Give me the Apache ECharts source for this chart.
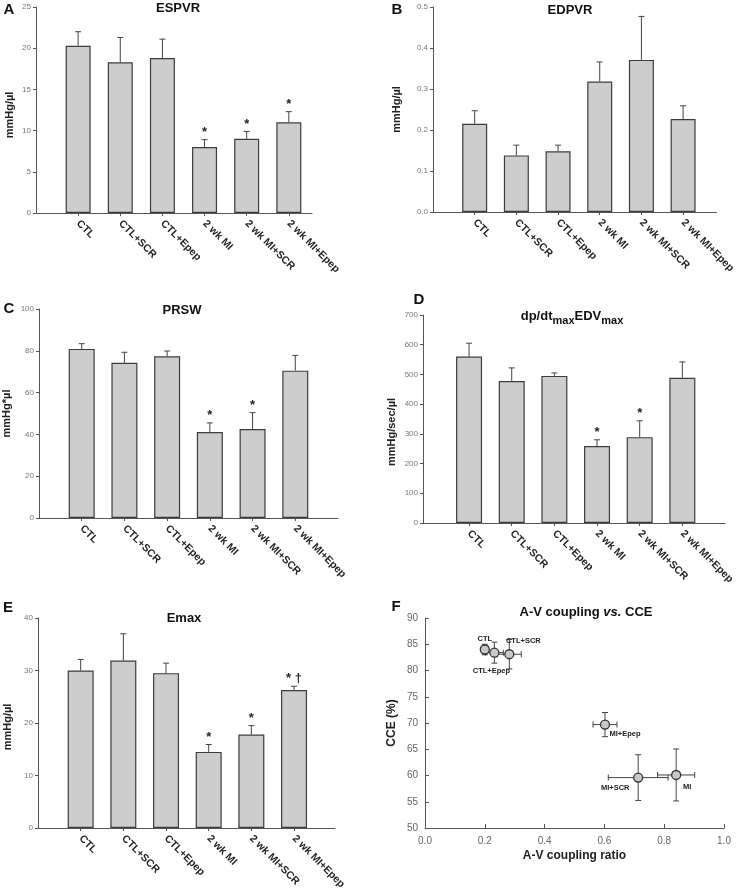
<!DOCTYPE html>
<html>
<head>
<meta charset="utf-8">
<script src="https://cdn.jsdelivr.net/npm/echarts@6/dist/echarts.min.js"></script>
<style>html,body{margin:0;padding:0;background:#fff}#c{width:738px;height:894px}</style>
</head>
<body>
<div id="c"></div>
<script>
// ---------- data ----------
const categories = ['CTL', 'CTL+SCR', 'CTL+Epep', '2 wk MI', '2 wk MI+SCR', '2 wk MI+Epep'];

const espvrMean = [20.3, 18.3, 18.8, 8.0, 9.0, 11.0];
const espvrSem  = [1.7, 3.0, 2.3, 0.9, 0.9, 1.3];
const espvrMark = ['', '', '', '*', '*', '*'];

const edpvrMean = [0.215, 0.138, 0.148, 0.318, 0.371, 0.227];
const edpvrSem  = [0.032, 0.025, 0.015, 0.048, 0.106, 0.032];
const edpvrMark = ['', '', '', '', '', ''];

const prswMean = [80.9, 74.3, 77.4, 41.1, 42.6, 70.5];
const prswSem  = [2.5, 5.0, 2.5, 4.4, 7.8, 7.3];
const prswMark = ['', '', '', '*', '*', ''];

const dpdtMean = [560, 478, 495, 259, 289, 489];
const dpdtSem  = [45, 44, 10, 21, 55, 53];
const dpdtMark = ['', '', '', '*', '*', ''];

const emaxMean = [30.0, 31.9, 29.5, 14.5, 17.8, 26.3];
const emaxSem  = [2.1, 5.1, 1.9, 1.4, 1.7, 0.7];
const emaxMark = ['', '', '', '*', '*', '* \u2020'];

const couplingGroups = ['CTL', 'CTL+SCR', 'CTL+Epep', 'MI', 'MI+SCR', 'MI+Epep'];
const avRatio    = [0.20, 0.282, 0.232, 0.84, 0.713, 0.602];
const avRatioErr = [0.012, 0.04, 0.03, 0.062, 0.10, 0.04];
const cce        = [84.0, 83.1, 83.4, 60.1, 59.6, 69.7];
const cceErr     = [1.0, 2.8, 2.0, 4.95, 4.35, 2.3];

// ---------- layout / style ----------
const panels = [
  {mean: espvrMean, sem: espvrSem, mark: espvrMark, name: 'mmHg/\u00b5l', max: 25, interval: 5, dec: 0,
   grid: {left: 36, top: 7, width: 276, height: 206}, xmin: -1, xmax: 5.55, nameGap: 21, namePad: 10, barW: 25},
  {mean: edpvrMean, sem: edpvrSem, mark: edpvrMark, name: 'mmHg/\u00b5l', max: 0.5, interval: 0.1, dec: 1,
   grid: {left: 433, top: 7, width: 285, height: 205}, xmin: -1, xmax: 5.8, nameGap: 31, namePad: 0, barW: 25},
  {mean: prswMean, sem: prswSem, mark: prswMark, name: 'mmHg*\u00b5l', max: 100, interval: 20, dec: 0,
   grid: {left: 39, top: 309, width: 299, height: 209}, xmin: -1, xmax: 6.0, nameGap: 27, namePad: 0, barW: 26},
  {mean: dpdtMean, sem: dpdtSem, mark: dpdtMark, name: 'mmHg/sec/\u00b5l', max: 700, interval: 100, dec: 0,
   grid: {left: 423, top: 315, width: 302, height: 208}, xmin: -1.08, xmax: 6.0, nameGap: 26, namePad: 26, barW: 26},
  {mean: emaxMean, sem: emaxSem, mark: emaxMark, name: 'mmHg/\u00b5l', max: 40, interval: 10, dec: 0,
   grid: {left: 38, top: 618, width: 297, height: 210}, xmin: -1, xmax: 5.96, nameGap: 25, namePad: 8, barW: 26}
];
const gridF = {left: 425, top: 618, width: 299, height: 210};
const labelOffsetF = [[0, -11], [14, -13], [-3, 18], [11, 12], [-23, 10], [20, 9]];

const FONT = '"Liberation Sans", Arial, sans-serif';
const axisColor = '#555';
const catIdx = categories.map((c, i) => i);

const grids = [], xAxes = [], yAxes = [], series = [];

panels.forEach((p, k) => {
  grids.push(p.grid);
  xAxes.push({
    gridIndex: k, type: 'value', min: p.xmin, max: p.xmax,
    axisLine: {show: true, onZero: false, lineStyle: {color: axisColor, width: 1}},
    axisTick: {show: true, length: 3, customValues: catIdx, lineStyle: {color: axisColor}},
    axisLabel: {customValues: catIdx, rotate: -45, margin: 9, fontSize: 10.5, fontWeight: 'bold',
      color: '#222', fontFamily: FONT, formatter: v => categories[Math.round(v)] || ''},
    splitLine: {show: false}
  });
  yAxes.push({
    gridIndex: k, type: 'value', min: 0, max: p.max, interval: p.interval,
    axisLine: {show: true, onZero: false, lineStyle: {color: axisColor, width: 1}},
    axisTick: {show: true, length: 3, lineStyle: {color: axisColor}},
    axisLabel: {fontSize: 8, color: '#777', margin: 5, fontFamily: FONT, formatter: v => v.toFixed(p.dec)},
    splitLine: {show: false},
    name: p.name, nameLocation: 'middle', nameGap: p.nameGap,
    nameTextStyle: {fontSize: 11, fontWeight: 'bold', color: '#222', fontFamily: FONT,
      padding: [0, p.namePad, 0, 0]}
  });
  series.push({
    type: 'bar', xAxisIndex: k, yAxisIndex: k, barWidth: p.barW,
    data: p.mean.map((v, i) => [i, v]),
    itemStyle: {color: '#cdcdcd', borderColor: '#3c3c3c', borderWidth: 1.2},
    silent: true
  });
  series.push({
    type: 'custom', xAxisIndex: k, yAxisIndex: k, z: 5,
    data: p.mean.map((v, i) => [i, v, p.sem[i]]),
    renderItem: (params, api) => {
      const x = api.value(0), m = api.value(1), e = api.value(2);
      const a = api.coord([x, m]), b = api.coord([x, m + e]);
      const st = {stroke: '#444', lineWidth: 1};
      const ch = [
        {type: 'line', shape: {x1: a[0], y1: a[1], x2: b[0], y2: b[1]}, style: st},
        {type: 'line', shape: {x1: b[0] - 3, y1: b[1], x2: b[0] + 3, y2: b[1]}, style: st}
      ];
      const mk = p.mark[params.dataIndex];
      if (mk) ch.push({type: 'text', x: b[0], y: b[1] - 1,
        style: {text: mk, align: 'center', verticalAlign: 'bottom', fontSize: 13, fontWeight: 'bold', fill: '#222', fontFamily: FONT}});
      return {type: 'group', children: ch};
    }
  });
});

// Panel F
const kF = panels.length;
grids.push(gridF);
xAxes.push({
  gridIndex: kF, type: 'value', min: 0, max: 1, interval: 0.2,
  axisLine: {show: true, onZero: false, lineStyle: {color: axisColor}},
  axisTick: {show: true, inside: true, length: 4, lineStyle: {color: axisColor}},
  axisLabel: {fontSize: 10, color: '#666', margin: 8, fontFamily: FONT, formatter: v => v.toFixed(1)},
  splitLine: {show: false},
  name: 'A-V coupling ratio', nameLocation: 'middle', nameGap: 22,
  nameTextStyle: {fontSize: 12, fontWeight: 'bold', color: '#222', fontFamily: FONT}
});
yAxes.push({
  gridIndex: kF, type: 'value', min: 50, max: 90, interval: 5,
  axisLine: {show: true, onZero: false, lineStyle: {color: axisColor}},
  axisTick: {show: true, inside: true, length: 4, lineStyle: {color: axisColor}},
  axisLabel: {fontSize: 10, color: '#666', margin: 7, fontFamily: FONT},
  splitLine: {show: false},
  name: 'CCE (%)', nameLocation: 'middle', nameGap: 27,
  nameTextStyle: {fontSize: 12, fontWeight: 'bold', color: '#222', fontFamily: FONT}
});
series.push({
  type: 'custom', xAxisIndex: kF, yAxisIndex: kF, z: 3,
  data: avRatio.map((v, i) => [v, cce[i], avRatioErr[i], cceErr[i]]),
  renderItem: (params, api) => {
    const x = api.value(0), y = api.value(1), ex = api.value(2), ey = api.value(3);
    const l = api.coord([x - ex, y]), r = api.coord([x + ex, y]);
    const t = api.coord([x, y + ey]), b = api.coord([x, y - ey]);
    const st = {stroke: '#444', lineWidth: 1};
    const c = 3;
    return {type: 'group', children: [
      {type: 'line', shape: {x1: l[0], y1: l[1], x2: r[0], y2: r[1]}, style: st},
      {type: 'line', shape: {x1: l[0], y1: l[1] - c, x2: l[0], y2: l[1] + c}, style: st},
      {type: 'line', shape: {x1: r[0], y1: r[1] - c, x2: r[0], y2: r[1] + c}, style: st},
      {type: 'line', shape: {x1: t[0], y1: t[1], x2: b[0], y2: b[1]}, style: st},
      {type: 'line', shape: {x1: t[0] - c, y1: t[1], x2: t[0] + c, y2: t[1]}, style: st},
      {type: 'line', shape: {x1: b[0] - c, y1: b[1], x2: b[0] + c, y2: b[1]}, style: st}
    ]};
  }
});
series.push({
  type: 'scatter', xAxisIndex: kF, yAxisIndex: kF, z: 4, symbol: 'circle', symbolSize: 9,
  itemStyle: {color: '#c8c8c8', borderColor: '#333', borderWidth: 1.3, opacity: 1},
  data: avRatio.map((v, i) => ({value: [v, cce[i]], name: couplingGroups[i],
    label: {offset: labelOffsetF[i]}})),
  label: {show: true, position: 'inside', formatter: '{b}', fontSize: 7.5, fontWeight: 'bold',
    color: '#222', fontFamily: FONT}
});

// titles and panel letters
const txt = (x, y, text, size) => ({
  type: 'text', x: x, y: y, silent: true,
  style: {text: text, fontSize: size, fontWeight: 'bold', fill: '#111', fontFamily: FONT,
    align: 'center', verticalAlign: 'middle'}
});

const graphic = [
  txt(9, 10, 'A', 15), txt(397, 10, 'B', 15), txt(9, 309, 'C', 15),
  txt(419, 300, 'D', 15), txt(8, 608, 'E', 15), txt(396, 607, 'F', 15),
  txt(178, 8, 'ESPVR', 13), txt(570, 10, 'EDPVR', 13), txt(182, 310, 'PRSW', 13),
  txt(184, 618, 'Emax', 13),
  {type: 'text', x: 572, y: 318, silent: true, style: {
    text: '{m|dp/dt}{s|max}{m|EDV}{s|max}', align: 'center', verticalAlign: 'middle', fill: '#111',
    fontFamily: FONT,
    rich: {
      m: {fontSize: 13, fontWeight: 'bold', fontFamily: FONT, fill: '#111', verticalAlign: 'bottom', padding: [0, 0, 4, 0]},
      s: {fontSize: 11, fontWeight: 'bold', fontFamily: FONT, fill: '#111', verticalAlign: 'bottom'}
    }}},
  {type: 'text', x: 586, y: 612, silent: true, style: {
    text: '{n|A-V coupling }{i|vs.}{n| CCE}', align: 'center', verticalAlign: 'middle', fill: '#111',
    fontFamily: FONT,
    rich: {
      n: {fontSize: 13, fontWeight: 'bold', fontFamily: FONT, fill: '#111'},
      i: {fontSize: 13, fontWeight: 'bold', fontStyle: 'italic', fontFamily: FONT, fill: '#111'}
    }}}
];

const chart = echarts.init(document.getElementById('c'), null, {renderer: 'canvas'});
chart.setOption({
  animation: false,
  backgroundColor: '#fff',
  grid: grids, xAxis: xAxes, yAxis: yAxes, series: series, graphic: graphic
});
</script>
</body>
</html>
